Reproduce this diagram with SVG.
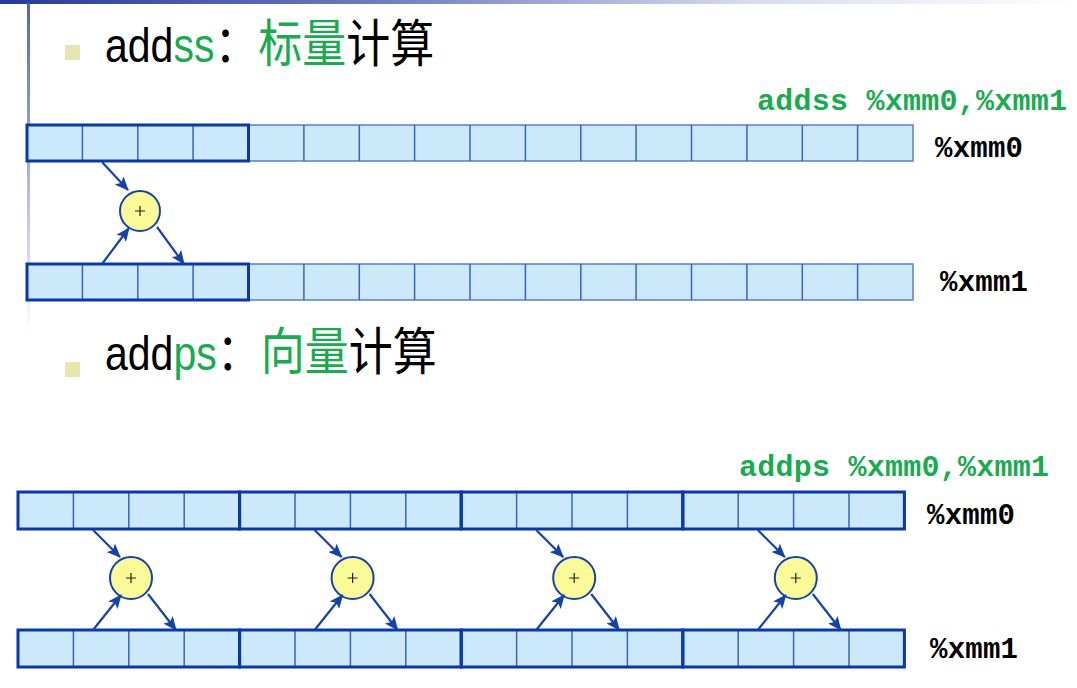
<svg xmlns="http://www.w3.org/2000/svg" width="1077" height="688" viewBox="0 0 1077 688">
<defs>
<linearGradient id="topbar" x1="0" y1="0" x2="1" y2="0">
<stop offset="0" stop-color="#26389c"/>
<stop offset="0.35" stop-color="#6f7bbd"/>
<stop offset="0.7" stop-color="#d9dcee"/>
<stop offset="1" stop-color="#ffffff"/>
</linearGradient>
<linearGradient id="leftbar" x1="0" y1="0" x2="0" y2="1">
<stop offset="0" stop-color="#5564b4"/>
<stop offset="0.5" stop-color="#a9b0d8"/>
<stop offset="1" stop-color="#ffffff"/>
</linearGradient>
<marker id="ah" markerWidth="14" markerHeight="12" refX="13" refY="6" orient="auto" markerUnits="userSpaceOnUse">
<path d="M0,0 L14,6 L0,12 L3,6 Z" fill="#1642a6"/>
</marker>
<style>
.cell{fill:#cce9fc;stroke:#3a62c0;stroke-width:1.5}
.lite{fill:#cce9fc;stroke:#5a7ecb;stroke-width:1.5}
.grp{fill:none;stroke:#0a38a4;stroke-width:3}
.div{stroke:#3a62c0;stroke-width:1.5}
.op{fill:#fafa98;stroke:#1642a6;stroke-width:2}
.plus{stroke:#222;stroke-width:1.2}
.arr{stroke:#1642a6;stroke-width:2.2;fill:none;marker-end:url(#ah)}
.title{font-family:"Liberation Sans","Noto Sans CJK SC",sans-serif;font-size:41px;fill:#000}
.cjk{font-size:44px}
.g{fill:#1aaa50}
.code{font-family:"Liberation Mono",monospace;font-weight:bold;font-size:30px;fill:#1aaa50}
.reg{font-family:"Liberation Mono",monospace;font-weight:bold;font-size:29px;fill:#000}
.bullet{fill:#e8e6b0}
</style>
</defs>
<rect x="0" y="0" width="1077" height="4" fill="url(#topbar)"/>
<rect x="27" y="3" width="3" height="330" fill="url(#leftbar)"/>

<g id="title1">
<rect class="bullet" x="65" y="45" width="15" height="15"/>
<text class="title" x="105" y="62" transform="translate(0,62) scale(1,1.15) translate(0,-62)">add<tspan class="g">ss</tspan><tspan class="cjk">：</tspan><tspan class="cjk g">标量</tspan><tspan class="cjk">计算</tspan></text>
</g>
<g id="code1"><text class="code" x="757" y="110" textLength="310" lengthAdjust="spacing">addss %xmm0,%xmm1</text></g>

<g id="s1-xmm0">
<rect class="lite" x="27" y="125" width="886" height="36"/>
<g class="div">
<line x1="82.4" y1="125" x2="82.4" y2="161"/><line x1="137.8" y1="125" x2="137.8" y2="161"/><line x1="193.1" y1="125" x2="193.1" y2="161"/>
<line x1="303.9" y1="125" x2="303.9" y2="161"/><line x1="359.3" y1="125" x2="359.3" y2="161"/><line x1="414.6" y1="125" x2="414.6" y2="161"/><line x1="470" y1="125" x2="470" y2="161"/>
<line x1="525.4" y1="125" x2="525.4" y2="161"/><line x1="580.8" y1="125" x2="580.8" y2="161"/><line x1="636.1" y1="125" x2="636.1" y2="161"/><line x1="691.5" y1="125" x2="691.5" y2="161"/>
<line x1="746.9" y1="125" x2="746.9" y2="161"/><line x1="802.3" y1="125" x2="802.3" y2="161"/><line x1="857.6" y1="125" x2="857.6" y2="161"/>
</g>
<rect class="grp" x="27" y="125" width="221.5" height="36"/>
<text class="reg" x="935" y="157" textLength="88" lengthAdjust="spacing">%xmm0</text>
</g>

<g id="s1-xmm1">
<rect class="lite" x="27" y="264" width="886" height="36"/>
<g class="div">
<line x1="82.4" y1="264" x2="82.4" y2="300"/><line x1="137.8" y1="264" x2="137.8" y2="300"/><line x1="193.1" y1="264" x2="193.1" y2="300"/>
<line x1="303.9" y1="264" x2="303.9" y2="300"/><line x1="359.3" y1="264" x2="359.3" y2="300"/><line x1="414.6" y1="264" x2="414.6" y2="300"/><line x1="470" y1="264" x2="470" y2="300"/>
<line x1="525.4" y1="264" x2="525.4" y2="300"/><line x1="580.8" y1="264" x2="580.8" y2="300"/><line x1="636.1" y1="264" x2="636.1" y2="300"/><line x1="691.5" y1="264" x2="691.5" y2="300"/>
<line x1="746.9" y1="264" x2="746.9" y2="300"/><line x1="802.3" y1="264" x2="802.3" y2="300"/><line x1="857.6" y1="264" x2="857.6" y2="300"/>
</g>
<rect class="grp" x="27" y="264" width="221.5" height="36"/>
<text class="reg" x="940" y="291" textLength="88" lengthAdjust="spacing">%xmm1</text>
</g>

<g id="s1-add">
<circle class="op" cx="140" cy="211" r="20"/>
<path class="plus" d="M135,211 H145 M140,206 V216"/>
</g>

<g id="title2">
<rect class="bullet" x="65" y="362" width="15" height="15"/>
<text class="title" x="105" y="370" transform="translate(0,370) scale(1,1.15) translate(0,-370)">add<tspan class="g">ps</tspan><tspan class="cjk">：</tspan><tspan class="cjk g">向量</tspan><tspan class="cjk">计算</tspan></text>
</g>
<g id="code2"><text class="code" x="739" y="476" textLength="310" lengthAdjust="spacing">addps %xmm0,%xmm1</text></g>

<g id="s2-xmm0">
<rect class="cell" x="18" y="492" width="886.4" height="37"/>
<g class="div">
<line x1="73.4" y1="492" x2="73.4" y2="529"/><line x1="128.8" y1="492" x2="128.8" y2="529"/><line x1="184.2" y1="492" x2="184.2" y2="529"/>
<line x1="295" y1="492" x2="295" y2="529"/><line x1="350.4" y1="492" x2="350.4" y2="529"/><line x1="405.8" y1="492" x2="405.8" y2="529"/>
<line x1="516.6" y1="492" x2="516.6" y2="529"/><line x1="572" y1="492" x2="572" y2="529"/><line x1="627.4" y1="492" x2="627.4" y2="529"/>
<line x1="738.2" y1="492" x2="738.2" y2="529"/><line x1="793.6" y1="492" x2="793.6" y2="529"/><line x1="849" y1="492" x2="849" y2="529"/>
</g>
<rect class="grp" x="18" y="492" width="221.6" height="37"/>
<rect class="grp" x="239.6" y="492" width="221.6" height="37"/>
<rect class="grp" x="461.2" y="492" width="221.6" height="37"/>
<rect class="grp" x="682.8" y="492" width="221.6" height="37"/>
<text class="reg" x="927" y="524" textLength="88" lengthAdjust="spacing">%xmm0</text>
</g>

<g id="s2-xmm1">
<rect class="cell" x="18" y="630" width="886.4" height="37"/>
<g class="div">
<line x1="73.4" y1="630" x2="73.4" y2="667"/><line x1="128.8" y1="630" x2="128.8" y2="667"/><line x1="184.2" y1="630" x2="184.2" y2="667"/>
<line x1="295" y1="630" x2="295" y2="667"/><line x1="350.4" y1="630" x2="350.4" y2="667"/><line x1="405.8" y1="630" x2="405.8" y2="667"/>
<line x1="516.6" y1="630" x2="516.6" y2="667"/><line x1="572" y1="630" x2="572" y2="667"/><line x1="627.4" y1="630" x2="627.4" y2="667"/>
<line x1="738.2" y1="630" x2="738.2" y2="667"/><line x1="793.6" y1="630" x2="793.6" y2="667"/><line x1="849" y1="630" x2="849" y2="667"/>
</g>
<rect class="grp" x="18" y="630" width="221.6" height="37"/>
<rect class="grp" x="239.6" y="630" width="221.6" height="37"/>
<rect class="grp" x="461.2" y="630" width="221.6" height="37"/>
<rect class="grp" x="682.8" y="630" width="221.6" height="37"/>
<text class="reg" x="930" y="658" textLength="88" lengthAdjust="spacing">%xmm1</text>
</g>

<g id="s2-add1"><circle class="op" cx="131" cy="578" r="21"/><path class="plus" d="M126,578 H136 M131,573 V583"/></g>
<g id="s2-add2"><circle class="op" cx="352.6" cy="578" r="21"/><path class="plus" d="M347.6,578 H357.6 M352.6,573 V583"/></g>
<g id="s2-add3"><circle class="op" cx="574.2" cy="578" r="21"/><path class="plus" d="M569.2,578 H579.2 M574.2,573 V583"/></g>
<g id="s2-add4"><circle class="op" cx="795.8" cy="578" r="21"/><path class="plus" d="M790.8,578 H800.8 M795.8,573 V583"/></g>

<g id="connectors">
<line class="arr" x1="102" y1="162" x2="128" y2="190"/>
<line class="arr" x1="102" y1="264" x2="129" y2="228"/>
<line class="arr" x1="157" y1="227" x2="184" y2="264"/>

<line class="arr" x1="93" y1="530" x2="120" y2="557"/>
<line class="arr" x1="93" y1="630" x2="121" y2="595"/>
<line class="arr" x1="148" y1="594" x2="176" y2="630"/>

<line class="arr" x1="314.6" y1="530" x2="341.6" y2="557"/>
<line class="arr" x1="314.6" y1="630" x2="342.6" y2="595"/>
<line class="arr" x1="369.6" y1="594" x2="397.6" y2="630"/>

<line class="arr" x1="536.2" y1="530" x2="563.2" y2="557"/>
<line class="arr" x1="536.2" y1="630" x2="564.2" y2="595"/>
<line class="arr" x1="591.2" y1="594" x2="619.2" y2="630"/>

<line class="arr" x1="757.8" y1="530" x2="784.8" y2="557"/>
<line class="arr" x1="757.8" y1="630" x2="785.8" y2="595"/>
<line class="arr" x1="812.8" y1="594" x2="840.8" y2="630"/>
</g>
</svg>
